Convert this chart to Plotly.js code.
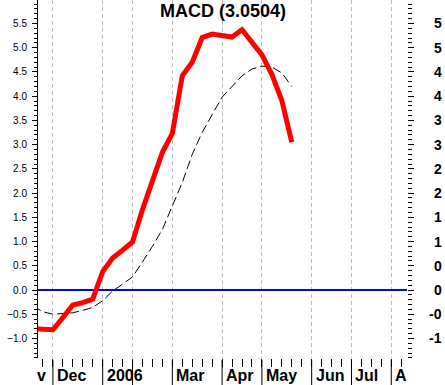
<!DOCTYPE html>
<html>
<head>
<meta charset="utf-8">
<script src="https://cdn.plot.ly/plotly-3.0.1.min.js"></script>
<style>
html,body{margin:0;padding:0;background:#fff;}
#chart{width:445px;height:385px;}
</style>
</head>
<body>
<div id="chart"></div>
<script>
// weekly index (0 = last week of Nov 2005)
const weeks = [-1,0,1,2,3,4,5,6,7,8,9,10,11,12,13,14,15,16,17,18,19,20,21,22,23,24,25];
const macd = [-0.80,-0.82,-0.82,-0.57,-0.31,-0.26,-0.19,0.38,0.66,0.82,0.99,1.66,2.25,2.84,3.23,4.42,4.70,5.21,5.28,5.26,5.22,5.37,5.12,4.85,4.45,3.91,3.05];
const signal = [-0.33,-0.45,-0.50,-0.49,-0.47,-0.42,-0.36,-0.22,-0.02,0.12,0.27,0.58,0.90,1.25,1.75,2.22,2.80,3.25,3.62,3.98,4.20,4.42,4.56,4.62,4.60,4.48,4.20];

const monthPos = [1,6,9,13,18,22,27,31,35];
const monthText = ["Dec","2006","","Mar","Apr","May","Jun","Jul","A"];
const rightTickVals = [5.5,5.0,4.5,4.0,3.5,3.0,2.5,2.0,1.5,1.0,0.5,0.0,-0.5,-1.0];
const rightTickText = ["5","5","4","4","3","3","2","2","1","1","0","0","-0","-1"];
const titleText = "MACD (3.0504)";

const yRange = [-1.403, 5.984];
const xRange = [-0.5, 36.58];
const FONT = "Liberation Sans, Arial, sans-serif";
const PLOT_H = 358;

const traces = [
  {x: weeks, y: signal, type: 'scatter', mode: 'lines',
   line: {color: '#000000', width: 1, dash: '9px,4px'}, hoverinfo: 'skip'},
  {x: weeks, y: macd, type: 'scatter', mode: 'lines',
   line: {color: '#ff0000', width: 5}, hoverinfo: 'skip'},
  {x: [xRange[0]], y: [0], yaxis: 'y2', type: 'scatter', mode: 'markers',
   marker: {opacity: 0}, hoverinfo: 'skip'}
];

const annotations = [];
annotations.push({xref: 'paper', yref: 'paper', x: 0.5, y: 1, xanchor: 'center', yanchor: 'top',
  text: titleText, showarrow: false, font: {family: FONT, size: 18, color: '#000', weight: 'bold'}, yshift: 1});
annotations.push({xref: 'x', yref: 'paper', x: 0.5, y: 0, xanchor: 'right', yanchor: 'top',
  text: 'v', showarrow: false, yshift: -7, font: {family: FONT, size: 16, color: '#000', weight: 'bold'}});
monthPos.forEach((p, i) => {
  if (!monthText[i]) return;
  annotations.push({xref: 'x', yref: 'paper', x: p, y: 0, xanchor: 'left', yanchor: 'top',
    text: monthText[i], showarrow: false, xshift: 2, yshift: -7,
    font: {family: FONT, size: 16, color: '#000', weight: 'bold'}});
});
rightTickVals.forEach((v, i) => {
  annotations.push({xref: 'paper', yref: 'y', x: 1, y: v, xanchor: 'right', yanchor: 'middle',
    text: rightTickText[i], showarrow: false, xshift: 37,
    font: {family: FONT, size: 14, color: '#000', weight: 'bold'}});
});

const shapes = monthPos.map(p => ({
  type: 'line', xref: 'x', yref: 'paper', x0: p, x1: p, y0: -2 / PLOT_H, y1: -27 / PLOT_H,
  line: {color: '#000', width: 1}
}));

const layout = {
  width: 445, height: 385,
  margin: {l: 38, r: 38, t: 0, b: 27, pad: 0},
  paper_bgcolor: '#fff', plot_bgcolor: '#fff',
  showlegend: false,
  xaxis: {
    range: xRange, tickmode: 'array', tickvals: monthPos, ticktext: monthPos.map(() => ''),
    ticks: '', 
    showgrid: true, gridcolor: '#bdbdbd', gridwidth: 1, griddash: '4px,3px',
    zeroline: false, showline: false,
    minor: {tickmode: 'linear', tick0: 0, dtick: 1, ticks: 'outside', ticklen: 8, tickcolor: '#000', tickwidth: 1, showgrid: false}
  },
  yaxis: {
    range: yRange, tickmode: 'linear', tick0: 0, dtick: 0.5, tickformat: '.1f',
    ticks: 'outside', ticklen: 5, tickcolor: '#000', tickwidth: 1,
    showline: true, linecolor: '#000', linewidth: 1,
    showgrid: false,
    zeroline: true, zerolinecolor: '#0000ff', zerolinewidth: 2.5,
    tickfont: {family: FONT, size: 10, color: '#000'},
    ticklabelstandoff: 3,
    minor: {tickmode: 'linear', tick0: 0, dtick: 0.1, ticks: 'outside', ticklen: 3, tickcolor: '#000', tickwidth: 1, showgrid: false}
  },
  yaxis2: {
    range: yRange, overlaying: 'y', side: 'right', anchor: 'x',
    tickmode: 'linear', tick0: 0, dtick: 0.5, showticklabels: false,
    ticks: 'outside', ticklen: 6, tickcolor: '#000', tickwidth: 1,
    showline: false, showgrid: false, zeroline: false,
    minor: {tickmode: 'linear', tick0: 0, dtick: 0.1, ticks: 'outside', ticklen: 4, tickcolor: '#000', tickwidth: 1, showgrid: false}
  },
  shapes: shapes,
  annotations: annotations
};

Plotly.newPlot('chart', traces, layout, {staticPlot: true, displayModeBar: false});
</script>
</body>
</html>
